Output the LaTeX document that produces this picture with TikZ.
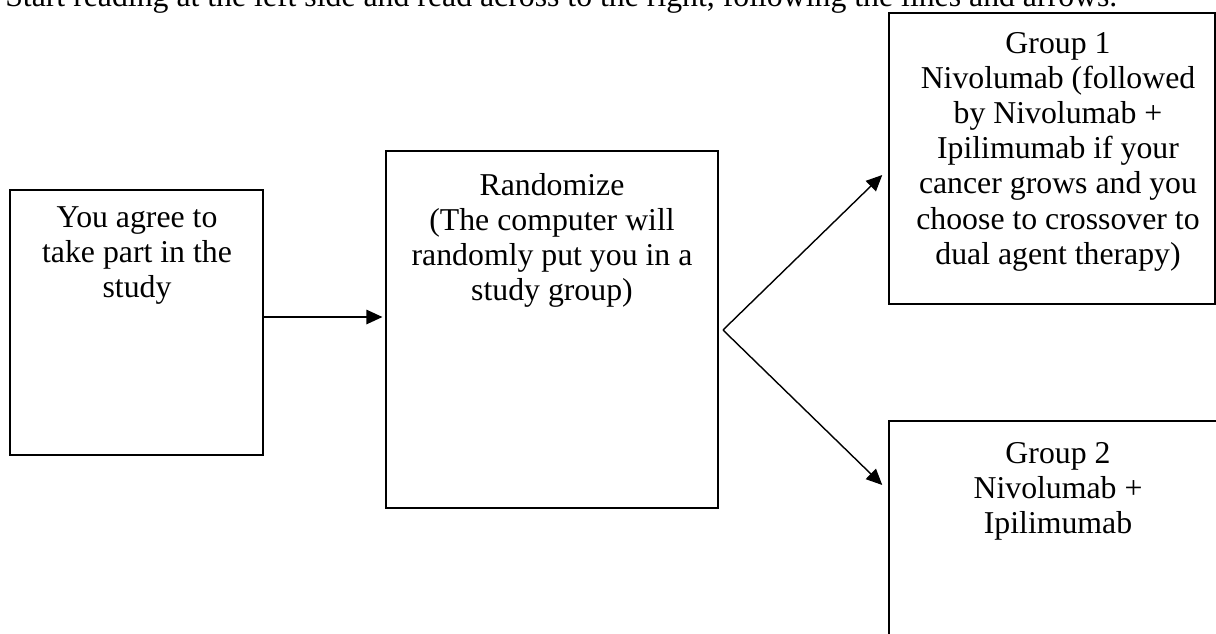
\documentclass[tikz,border=0pt]{standalone}
\usepackage{fontspec}
\setmainfont{Liberation Serif}
\usetikzlibrary{arrows.meta,positioning}

\begin{document}
\begin{tikzpicture}[x=0.025cm,y=-0.025cm,
		stepbox/.style={draw, line width=1pt, inner sep=0pt},
		boxtext/.style={anchor=north, align=center, inner sep=0pt, font=\fontsize{22.6}{25}\selectfont},
		flow/.style={line width=1pt, -{Triangle[length=0.4cm,width=0.36cm]}}]
		\clip (0,0) rectangle (1216,633);

		\node[boxtext, anchor=base west] (intro) at (5,6) {Start reading at the left side and read across to the right, following the lines and arrows.};

		% boxes
		\node[stepbox, minimum width=6.325cm, minimum height=6.625cm] (agree) at (136.5,322.5) {};
		\node[stepbox, minimum width=8.3cm, minimum height=8.925cm] (rand) at (552,329.5) {};
		\node[stepbox, minimum width=8.15cm, minimum height=7.275cm] (grp1) at (1052,158.5) {};
		\node[stepbox, minimum width=8.45cm, minimum height=5.975cm] (grp2) at (1058,540.5) {};

		% texts
		\node[boxtext] (agreetext) at (137,206) {You agree to\\take part in the\\study};
		\node[boxtext] (randtext) at (552,173) {Randomize\\(The computer will\\randomly put you in a\\study group)};
		\node[boxtext] (grp1text) at (1058,32) {Group 1\\Nivolumab (followed\\by Nivolumab +\\Ipilimumab if your\\cancer grows and you\\choose to crossover to\\dual agent therapy)};
		\node[boxtext] (grp2text) at (1058,442) {Group 2\\Nivolumab +\\Ipilimumab};

		% arrows
		\coordinate (split) at (723,330);
		\draw[flow] (agree.east |- 0,317) -- ([xshift=-0.07cm]rand.west |- 0,317);
		\draw[flow] (split) -- ([xshift=-0.15cm]grp1.west |- 0,175);
		\draw[flow] (split) -- ([xshift=-0.15cm]grp2.west |- 0,485);
	\end{tikzpicture}
\end{document}
